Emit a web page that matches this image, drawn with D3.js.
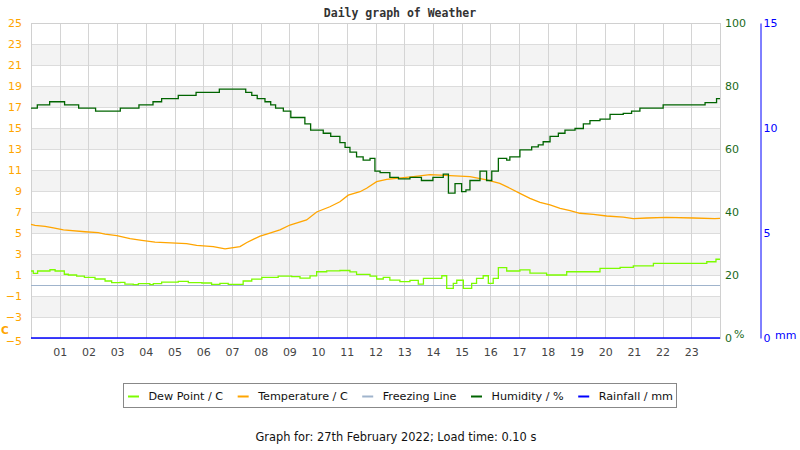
<!DOCTYPE html>
<html><head><meta charset="utf-8">
<script src="https://cdn.jsdelivr.net/npm/d3@7"></script>
<style>
body{margin:0;background:#fff;}
svg{display:block;font-family:"DejaVu Sans",sans-serif;}
</style></head>
<body><svg id="c" width="800" height="450"></svg>
<script>
// ---- data ----
const hourLabels = ["01","02","03","04","05","06","07","08","09","10","11","12","13","14","15","16","17","18","19","20","21","22","23"];
const tempTicks = [25,23,21,19,17,15,13,11,9,7,5,3,1,-1,-3,-5];
const humTicks = [0,20,40,60,80,100];
const rainTicks = [0,5,10,15];

const humHours = [0,0.22,0.65,1.17,1.66,2.25,3.11,3.76,4.25,4.55,5.13,5.75,6.56,7.48,7.69,7.88,8.15,8.35,8.52,8.79,9.05,9.54,9.74,10.18,10.44,10.76,10.94,11.11,11.34,11.57,11.81,11.98,12.16,12.5,12.8,13.2,13.6,14.0,14.36,14.54,14.77,15.0,15.15,15.29,15.64,15.87,16.05,16.28,16.57,16.68,17.03,17.44,17.67,17.84,18.08,18.37,18.6,18.95,19.24,19.47,19.82,20.17,20.63,20.92,21.21,22.02,23.48,23.88,24];
const humidity = [73,74,75,74,73,72,73,74,75,76,77,78,79,78,77,76,75,74,73,72,70,68,66,65,64,62,60.5,59,57.5,56.5,57,53,52.5,51,50.5,51,50,51,52,46,49,46.5,47,50,53,50,53,57,56.5,57.5,59.7,60.7,61.3,62.3,64,65,66,66.5,68,69,69.5,71,71.3,72,73,74,74.7,76,76];

const tempHours = [0,0.14,0.49,0.78,1.13,1.88,2.34,2.58,2.99,3.45,3.86,4.32,5.42,5.77,6.35,6.76,7.28,7.52,7.74,7.98,8.21,8.67,9.02,9.6,9.95,10.41,10.76,11.05,11.46,11.69,12.04,12.39,13.32,13.9,15.29,15.87,16.33,16.68,17.03,17.38,17.73,18.08,18.43,18.78,19.12,19.59,20.05,20.63,20.98,21.45,22.14,23.07,23.82,24];
const temperature = [5.83,5.73,5.64,5.48,5.3,5.12,5.03,4.9,4.74,4.46,4.3,4.14,3.98,3.83,3.7,3.48,3.7,4.1,4.4,4.7,4.9,5.29,5.76,6.24,7.0,7.5,7.98,8.6,8.93,9.26,9.89,10.1,10.36,10.55,10.36,10.05,9.73,9.26,8.78,8.3,7.92,7.67,7.35,7.13,6.88,6.78,6.62,6.52,6.36,6.43,6.49,6.43,6.36,6.4];

const dewHours = [0,0.08,0.23,0.66,0.84,1.16,1.3,1.59,1.86,2.23,2.58,2.81,3.1,3.27,3.56,3.74,4.14,4.26,4.55,5.13,5.48,5.95,6.29,6.58,6.87,7.28,7.39,7.69,8.04,8.61,9.08,9.37,9.72,9.95,10.3,10.76,11.11,11.34,11.81,12.04,12.27,12.5,12.85,13.2,13.49,13.67,14.01,14.31,14.48,14.71,14.83,15.06,15.35,15.52,15.75,15.93,16.1,16.28,16.57,17.03,17.38,17.96,18.66,19.12,19.82,20.52,20.98,21.68,22.6,23.54,23.86,24];
const dewPoint = [1.38,1.16,1.38,1.5,1.38,1.07,1.0,0.9,0.78,0.62,0.43,0.27,0.3,0.14,0.08,0.17,0.08,0.17,0.33,0.4,0.27,0.24,0.1,0.2,0.1,0.1,0.43,0.6,0.78,0.9,0.84,0.71,0.92,1.31,1.4,1.43,1.3,1.06,0.9,0.62,0.77,0.52,0.36,0.49,0.14,0.68,0.68,0.93,-0.27,0.2,0.5,-0.27,0.2,0.68,0.93,0.2,0.68,1.7,1.38,1.48,1.17,1.0,1.31,1.31,1.64,1.73,1.86,2.1,2.1,2.26,2.5,2.5];

const rainHours = [0,24];
const rainfall = [0,0];
const freezeHours = [0,24];
const freezing = [0,0];

const legendItems = [
  {name:"Dew Point / C", color:"#7CFC00"},
  {name:"Temperature / C", color:"#FFA500"},
  {name:"Freezing Line", color:"#A0B4CC"},
  {name:"Humidity / %", color:"#006400"},
  {name:"Rainfall / mm", color:"#0000FF"}
];

// ---- layout ----
const L=31, R=720, T=23, B=338;
const svg = d3.select("#c");
const x = d3.scaleLinear().domain([0,24]).range([L,R]);
const yT = d3.scaleLinear().domain([-5,25]).range([B,T]);
const yH = d3.scaleLinear().domain([0,100]).range([B,T]);
const yR = d3.scaleLinear().domain([0,15]).range([B,T]);

// title
svg.append("text").attr("x",400).attr("y",17).attr("text-anchor","middle")
  .style("font-family","'DejaVu Sans Mono',monospace").style("font-weight","bold")
  .style("font-size","11.5px").attr("fill","#333").text("Daily graph of Weather");

// bands
const bandTops = tempTicks.filter(v => ((v % 4)+4)%4 === 3 && v > -5);
svg.append("g").selectAll("rect").data(bandTops).join("rect")
  .attr("x",L).attr("width",R-L).attr("y",d=>yT(d)).attr("height",d=>yT(d-2)-yT(d))
  .attr("fill","#f3f3f3");

// horizontal grid
svg.append("g").selectAll("line").data(tempTicks).join("line")
  .attr("x1",L).attr("x2",R).attr("y1",d=>yT(d)+0.5).attr("y2",d=>yT(d)+0.5)
  .attr("stroke","#dcdcdc").attr("stroke-width",1);
// vertical grid
svg.append("g").selectAll("line").data(hourLabels.map(Number)).join("line")
  .attr("x1",d=>Math.round(x(d))+0.5).attr("x2",d=>Math.round(x(d))+0.5).attr("y1",T).attr("y2",B)
  .attr("stroke","#d4d4d4").attr("stroke-width",1);
// frame
svg.append("rect").attr("x",L+0.5).attr("y",T+0.5).attr("width",R-L).attr("height",B-T)
  .attr("fill","none").attr("stroke","#d0d0d0");

// axes
const axL = svg.append("g").attr("transform",`translate(${L-9},0)`)
  .call(d3.axisLeft(yT).tickValues(tempTicks).tickSize(0).tickPadding(0).tickFormat(d3.format("d")));
axL.select(".domain").remove();
axL.selectAll("text").attr("fill","#FFA500").style("font-size","11px").style("font-family","'DejaVu Sans',sans-serif");
axL.selectAll(".tick").filter(d=>d===-5).select("text").attr("dy","0.62em");

const axH = svg.append("g").attr("transform",`translate(${R+5},0)`)
  .call(d3.axisRight(yH).tickValues(humTicks).tickSize(0).tickPadding(0));
axH.select(".domain").remove();
axH.selectAll("text").attr("fill","#1a6a1a").style("font-size","11px").style("font-family","'DejaVu Sans',sans-serif");

const axR = svg.append("g").attr("transform",`translate(760.5,0)`)
  .call(d3.axisRight(yR).tickValues(rainTicks).tickSize(0).tickSizeOuter(0).tickPadding(3));
axR.select(".domain").attr("stroke","#0000FF").attr("stroke-width",1);
axR.selectAll("text").attr("fill","#0000FF").style("font-size","11px").style("font-family","'DejaVu Sans',sans-serif");

const axX = svg.append("g").attr("transform",`translate(0,${B+10})`)
  .call(d3.axisBottom(x).tickValues(hourLabels.map(Number)).tickSize(0).tickPadding(0).tickFormat((d,i)=>hourLabels[i]));
axX.select(".domain").remove();
axX.selectAll("text").attr("fill","#444").style("font-size","11px").style("font-family","'DejaVu Sans',sans-serif");

// unit labels
svg.append("text").attr("x",1).attr("y",334).attr("fill","#FFA500").style("font-weight","bold").style("font-size","10.5px").text("C");
svg.append("text").attr("x",734).attr("y",338).attr("fill","#1a6a1a").style("font-size","11px").text("%");
svg.append("text").attr("x",775).attr("y",339).attr("fill","#0000FF").style("font-size","11px").text("mm");

// lines
function series(hours, vals, ys, color, curve, w){
  const pts = hours.map((h,i)=>[h, vals[i]]);
  svg.append("path").datum(pts)
    .attr("d", d3.line().x(d=>x(d[0])).y(d=>ys(d[1])).curve(curve))
    .attr("fill","none").attr("stroke",color).attr("stroke-width",w);
}
series(freezeHours, freezing, yT, "#A0B4CC", d3.curveLinear, 1);
series(dewHours, dewPoint, yT, "#7CFC00", d3.curveStepAfter, 1.3);
series(tempHours, temperature, yT, "#FFA500", d3.curveLinear, 1.3);
series(humHours, humidity, yH, "#006400", d3.curveStepAfter, 1.3);
series(rainHours, rainfall, yR, "#0000FF", d3.curveLinear, 1.6);

// legend: items spread so the last text ends near the box's right edge
const lg = svg.append("g");
lg.append("rect").attr("x",123.5).attr("y",383.5).attr("width",553).attr("height",24)
  .attr("fill","#fff").attr("stroke","#888");
const startX = 128, endX = 673, swGap = 20.5;
const texts = legendItems.map(it => lg.append("text").attr("y",400).attr("fill","#111")
  .style("font-size","11.2px").text(it.name));
const widths = texts.map(t => t.node().getComputedTextLength());
const gap = (endX - startX - d3.sum(widths) - swGap*legendItems.length) / (legendItems.length-1);
let cx = startX;
legendItems.forEach((it,i)=>{
  lg.append("line").attr("x1",cx).attr("x2",cx+11).attr("y1",396.5).attr("y2",396.5)
    .attr("stroke",it.color).attr("stroke-width",2);
  texts[i].attr("x",cx+swGap);
  cx += swGap + widths[i] + gap;
});

// footer
svg.append("text").attr("x",396).attr("y",441).attr("text-anchor","middle").attr("fill","#111")
  .style("font-size","11.4px").text("Graph for: 27th February 2022; Load time: 0.10 s");
</script></body></html>
